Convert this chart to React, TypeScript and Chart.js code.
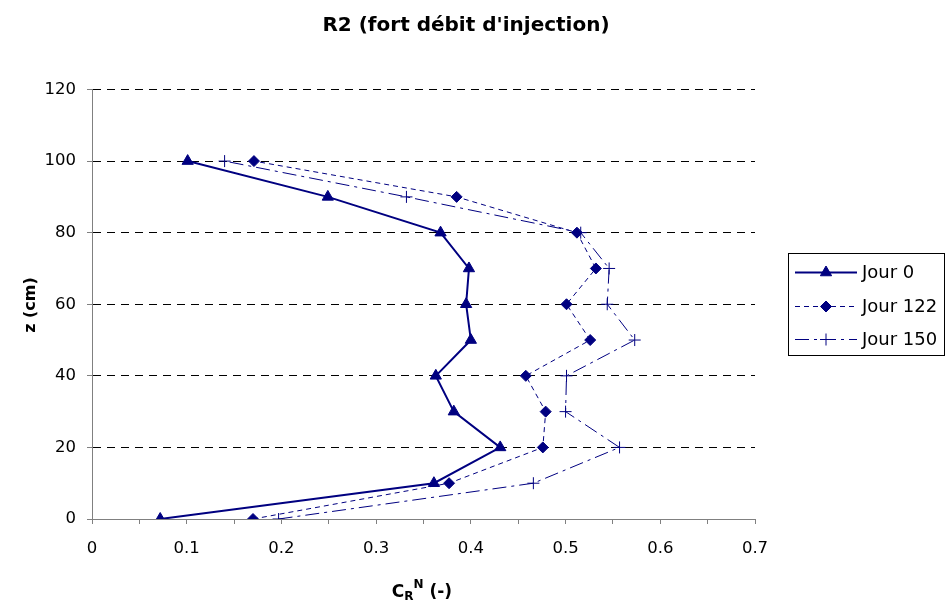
import React, { useEffect, useRef } from 'react';
import { Chart, registerables } from 'chart.js';
import { drawPoint } from 'chart.js/helpers';

Chart.register(...registerables);

const TITLE = "R2 (fort débit d'injection)";
const Y_TITLE = 'z (cm)';
const SERIES_NAMES = ['Jour 0', 'Jour 122', 'Jour 150'];

const Z_CM = [0, 10, 20, 30, 40, 50, 60, 70, 80, 90, 100];
const JOUR_0 = [0.072, 0.361, 0.431, 0.382, 0.363, 0.4, 0.395, 0.398, 0.368, 0.249, 0.101];
const JOUR_122 = [0.17, 0.377, 0.476, 0.479, 0.458, 0.526, 0.501, 0.532, 0.512, 0.385, 0.171];
const JOUR_150 = [0.197, 0.466, 0.557, 0.5, 0.501, 0.573, 0.544, 0.546, 0.516, 0.332, 0.14];

const X_MIN = 0;
const X_MAX = 0.7;
const X_STEP = 0.05;
const Y_MIN = 0;
const Y_MAX = 120;
const Y_STEP = 20;

const NAVY = '#000080';
const FONT = '"DejaVu Sans", "Liberation Sans", Arial, sans-serif';

const toPoints = (xs: number[]) => xs.map((x, i) => ({ x, y: Z_CM[i] }));

const decorPlugin = {
  id: 'decor',
  afterDraw(chart: any) {
    const ctx: CanvasRenderingContext2D = chart.ctx;
    ctx.save();
    ctx.fillStyle = '#000';
    ctx.setLineDash([]);

    // Title
    ctx.font = `bold 20px ${FONT}`;
    ctx.textAlign = 'center';
    ctx.textBaseline = 'middle';
    ctx.fillText(TITLE, 466, 26);

    // Y axis title
    ctx.save();
    ctx.translate(31, 305);
    ctx.rotate(-Math.PI / 2);
    ctx.font = `bold 16px ${FONT}`;
    ctx.fillText(Y_TITLE, 0, 0);
    ctx.restore();

    // X axis title: C_R^N (-)
    const parts = [
      { t: 'C', size: 17, dy: 0 },
      { t: 'R', size: 12, dy: 3 },
      { t: 'N', size: 12, dy: -9 },
      { t: ' (-)', size: 17, dy: 0 },
    ];
    ctx.textAlign = 'left';
    ctx.textBaseline = 'alphabetic';
    let total = 0;
    const widths = parts.map((p) => {
      ctx.font = `bold ${p.size}px ${FONT}`;
      const w = ctx.measureText(p.t).width;
      total += w;
      return w;
    });
    let cx = 422 - total / 2;
    const base = 597;
    parts.forEach((p, i) => {
      ctx.font = `bold ${p.size}px ${FONT}`;
      ctx.fillText(p.t, cx, base + p.dy);
      cx += widths[i];
    });

    // Legend
    ctx.strokeStyle = '#000';
    ctx.lineWidth = 1;
    ctx.strokeRect(788.5, 253.5, 156, 102);
    const rows = [272, 306, 339];
    chart.data.datasets.forEach((ds: any, i: number) => {
      const y = rows[i];
      ctx.save();
      ctx.strokeStyle = ds.borderColor;
      ctx.lineWidth = ds.borderWidth;
      ctx.setLineDash(ds.borderDash || []);
      ctx.beginPath();
      ctx.moveTo(795, y + 0.5);
      ctx.lineTo(857, y + 0.5);
      ctx.stroke();
      ctx.setLineDash([]);
      ctx.fillStyle = ds.pointBackgroundColor;
      ctx.strokeStyle = ds.pointBorderColor;
      ctx.lineWidth = ds.pointBorderWidth;
      drawPoint(ctx, { pointStyle: ds.pointStyle, radius: ds.pointRadius, rotation: 0, borderWidth: ds.pointBorderWidth } as any, 826, y + 0.5);
      ctx.restore();
      ctx.fillStyle = '#000';
      ctx.font = `18px ${FONT}`;
      ctx.textAlign = 'left';
      ctx.textBaseline = 'middle';
      ctx.fillText(ds.label, 862, y + 1);
    });
    ctx.restore();
  },
};

export default function App() {
  const ref = useRef<HTMLCanvasElement | null>(null);

  useEffect(() => {
    if (!ref.current) return;
    const chart = new Chart(ref.current, {
      type: 'scatter',
      data: {
        datasets: [
          {
            label: SERIES_NAMES[0],
            data: toPoints(JOUR_0),
            showLine: true,
            borderColor: NAVY,
            borderWidth: 2,
            borderDash: [],
            pointStyle: 'triangle',
            pointRadius: 6.5,
            pointBackgroundColor: NAVY,
            pointBorderColor: NAVY,
            pointBorderWidth: 1,
          },
          {
            label: SERIES_NAMES[1],
            data: toPoints(JOUR_122),
            showLine: true,
            borderColor: NAVY,
            borderWidth: 1,
            borderDash: [5, 4],
            pointStyle: 'rectRot',
            pointRadius: 5.5,
            pointBackgroundColor: NAVY,
            pointBorderColor: NAVY,
            pointBorderWidth: 1,
          },
          {
            label: SERIES_NAMES[2],
            data: toPoints(JOUR_150),
            showLine: true,
            borderColor: NAVY,
            borderWidth: 1,
            borderDash: [14, 5, 3, 5],
            pointStyle: 'cross',
            pointRadius: 6,
            pointBackgroundColor: NAVY,
            pointBorderColor: NAVY,
            pointBorderWidth: 1,
          },
        ] as any,
      },
      options: {
        animation: false,
        responsive: false,
        devicePixelRatio: 1,
        layout: { padding: { top: 89.5, right: 191, bottom: 0, left: 0 } },
        plugins: {
          legend: { display: false },
          title: { display: false },
          tooltip: { enabled: false },
        },
        scales: {
          x: {
            type: 'linear',
            position: 'bottom',
            min: X_MIN,
            max: X_MAX,
            afterFit: (s: any) => {
              s.height = 88;
            },
            ticks: {
              stepSize: X_STEP,
              autoSkip: false,
              maxRotation: 0,
              padding: 15,
              color: '#000',
              font: { family: FONT, size: 16.5 },
              callback: (v: any) => {
                const t = Math.round(Number(v) * 100);
                if (t % 10 !== 0) return '';
                return String(t / 100);
              },
            },
            grid: {
              drawOnChartArea: false,
              drawTicks: true,
              tickLength: 5,
              tickColor: '#808080',
              color: '#808080',
            },
            border: { display: true, color: '#808080', width: 1 },
          },
          y: {
            type: 'linear',
            min: Y_MIN,
            max: Y_MAX,
            afterFit: (s: any) => {
              s.width = 92;
            },
            ticks: {
              stepSize: Y_STEP,
              padding: 11,
              color: '#000',
              font: { family: FONT, size: 16.5 },
            },
            grid: {
              drawOnChartArea: true,
              drawTicks: true,
              tickLength: 5,
              tickColor: '#808080',
              tickBorderDash: [],
              color: (c: any) => (c.tick && c.tick.value === 0 ? 'rgba(0,0,0,0)' : '#000'),
            },
            border: { display: true, color: '#808080', width: 1, dash: [8, 6] },
          },
        },
      },
      plugins: [decorPlugin],
    } as any);
    return () => chart.destroy();
  }, []);

  return (
    <div style={{ position: 'absolute', left: 0, top: 0, width: 946, height: 607 }}>
      <canvas ref={ref} width={946} height={607} style={{ display: 'block' }} />
    </div>
  );
}
